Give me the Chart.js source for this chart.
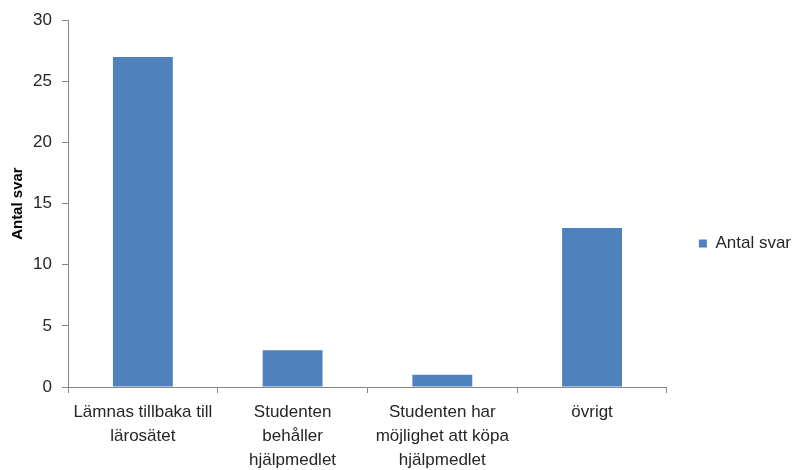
<!DOCTYPE html>
<html>
<head>
<meta charset="utf-8">
<script src="https://cdn.jsdelivr.net/npm/chart.js@4/dist/chart.umd.min.js"></script>
<style>
  body { margin: 0; background: #fff; }
  canvas { display: block; }
</style>
</head>
<body>
<canvas id="chart" width="793" height="470"></canvas>
<script>
// category labels, already split into lines the way they wrap under each bar
const categories = [
  ['Lämnas tillbaka till', 'lärosätet'],
  ['Studenten', 'behåller', 'hjälpmedlet'],
  ['Studenten har', 'möjlighet att köpa', 'hjälpmedlet'],
  'övrigt'
];
const answers = [27, 3, 1, 13];
const seriesName = 'Antal svar';
const yTicks = [0, 5, 10, 15, 20, 25, 30];

const axisGray = '#868686';
const textColor = '#262626';
const font = 'Liberation Sans, Arial, sans-serif';

new Chart(document.getElementById('chart').getContext('2d'), {
  type: 'bar',
  data: {
    labels: categories,
    datasets: [{
      label: seriesName,
      data: answers,
      backgroundColor: '#4F81BD',
      borderWidth: 0,
      barPercentage: 0.4,
      categoryPercentage: 1
    }]
  },
  options: {
    responsive: false,
    animation: false,
    layout: { padding: { top: 17, right: -8, left: 0, bottom: 0 } },
    plugins: {
      tooltip: { enabled: false },
      legend: {
        position: 'right',
        labels: {
          boxWidth: 8,
          boxHeight: 8,
          padding: 32,
          color: textColor,
          font: { family: font, size: 17 }
        }
      }
    },
    scales: {
      x: {
        grid: {
          offset: true,
          drawOnChartArea: false,
          drawTicks: true,
          tickLength: 6,
          color: axisGray
        },
        border: { color: axisGray, width: 1 },
        ticks: {
          color: textColor,
          padding: 7,
          maxRotation: 0,
          autoSkip: false,
          font: { family: font, size: 17, lineHeight: 1.42 }
        },
        afterFit: axis => { axis.height = 83; }
      },
      y: {
        min: 0,
        max: 30,
        afterBuildTicks: axis => { axis.ticks = yTicks.map(v => ({ value: v })); },
        grid: {
          drawOnChartArea: false,
          drawTicks: true,
          tickLength: 6,
          color: axisGray
        },
        border: { color: axisGray, width: 1 },
        ticks: {
          color: textColor,
          padding: 10,
          font: { family: font, size: 17 }
        },
        title: {
          display: true,
          text: seriesName,
          color: '#000',
          padding: { top: 9, bottom: 0 },
          font: { family: font, size: 15, weight: 'bold' }
        },
        afterFit: axis => { axis.width = 68; }
      }
    }
  }
});
</script>
</body>
</html>
